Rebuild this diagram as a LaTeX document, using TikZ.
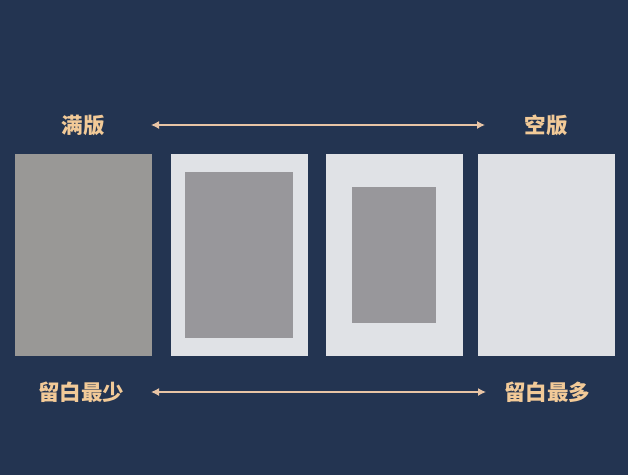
\documentclass[tikz,border=0pt]{standalone}
\usepackage{fontspec}
\newfontfamily\cjk{Noto Sans CJK SC}
\usetikzlibrary{arrows.meta}
\definecolor{navy}{RGB}{35,52,81}
\definecolor{tan}{RGB}{242,202,152}
\definecolor{arrowtan}{RGB}{232,196,165}
\definecolor{fullgray}{RGB}{153,152,150}
\definecolor{paper}{RGB}{224,226,230}
\definecolor{innergray}{RGB}{152,151,155}
\tikzset{
	panel/.style={rectangle, draw=none, minimum width=137pt, minimum height=202pt, inner sep=0pt},
	label/.style={text=tan, font=\cjk\bfseries\fontsize{21.5pt}{21.5pt}\selectfont},
	spanarrow/.style={draw=arrowtan, line width=1.3pt, {Latex[length=8pt,width=8pt]}-{Latex[length=8pt,width=8pt]}}
}
\begin{document}
\begin{tikzpicture}[x=1pt, y=-1pt]
	\fill[navy] (0,0) rectangle (628,475);
	\useasboundingbox (0,0) rectangle (628,475);
	% panels
	\node[panel, fill=fullgray](full) at (83,255){};
	\node[panel, fill=paper](wide) at (239.5,255){};
	\node[rectangle, fill=innergray, minimum width=108pt, minimum height=166pt, inner sep=0pt](wideInner) at (239,255){};
	\node[panel, fill=paper](narrow) at (394,255){};
	\node[rectangle, fill=innergray, minimum width=84pt, minimum height=136pt, inner sep=0pt](narrowInner) at (394,255){};
	\node[panel, fill=paper!98!gray](empty) at (546.5,255){};
	% top scale
	\node[label](fullLbl) at (83,125){满版};
	\node[label](emptyLbl) at (546,125){空版};
	\coordinate(topLeft) at (151,125);
	\coordinate(topRight) at (485,125);
	\draw[spanarrow](topLeft) -- (topRight);
	% bottom scale
	\node[label](leastLbl) at (81,392){留白最少};
	\node[label](mostLbl) at (547,392){留白最多};
	\coordinate(btmLeft) at (151,392);
	\coordinate(btmRight) at (486,392);
	\draw[spanarrow](btmLeft) -- (btmRight);
\end{tikzpicture}
\end{document}
